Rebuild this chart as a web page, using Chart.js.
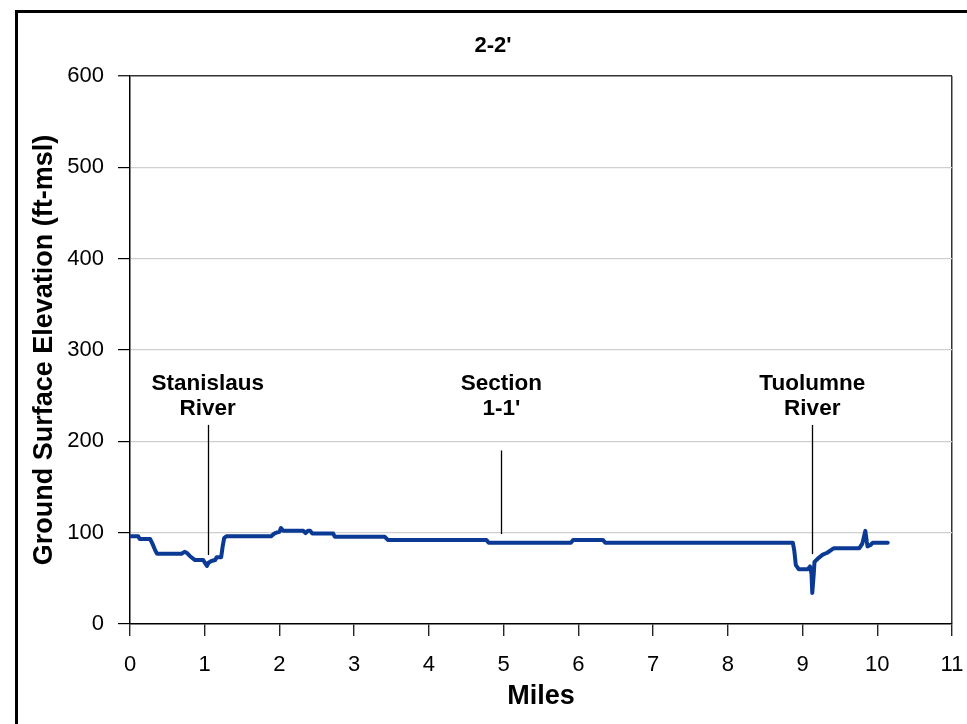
<!DOCTYPE html>
<html>
<head>
<meta charset="utf-8">
<script src="https://cdn.jsdelivr.net/npm/chart.js@4.4.1/dist/chart.umd.min.js"></script>
<style>
html,body{margin:0;padding:0;background:#fff;}
#wrap{width:967px;height:724px;position:relative;}
</style>
</head>
<body>
<div id="wrap"><canvas id="c" width="967" height="724"></canvas></div>
<script>
// ---- data ----
const chartTitle = "2-2'";
const xAxisTitle = "Miles";
const yAxisTitle = "Ground Surface Elevation (ft-msl)";
const miles = [0,0.11,0.13,0.27,0.30,0.33,0.36,0.69,0.73,0.76,0.80,0.87,0.98,1.03,1.05,1.09,1.14,1.16,1.22,1.24,1.26,1.29,1.89,1.93,1.96,2.00,2.02,2.05,2.32,2.35,2.38,2.41,2.44,2.72,2.74,3.41,3.45,4.77,4.80,5.90,5.93,6.33,6.36,8.87,8.89,8.91,8.95,9.07,9.10,9.12,9.13,9.15,9.16,9.21,9.27,9.33,9.40,9.42,9.76,9.80,9.84,9.86,9.87,9.91,9.94,10.14];
const elevation = [96,96,93,93,88,82,77,77,79,78,74.5,70,70,63.5,67,69,70,73,73,85,94,96,96,99,100,101,105,102,102,99.5,102,102,99,99,95.5,95.5,92,92,89,89,92,92,89,89,80,64.5,60,60,63,55,34,55,68,72,76,78,82,83,83,88,102,90,85,86.5,89,89];
const xTicks = [0,1,2,3,4,5,6,7,8,9,10,11];
const yTicks = [0,100,200,300,400,500,600];
const annotLabels = [["Stanislaus","River"],["Section","1-1'"],["Tuolumne","River"]];
const annotMiles = [1.04, 4.97, 9.13];
const annotTop = [218, 190, 218];
const annotBottom = [75.5, 98.5, 76.5];
const labelLineValues = [263, 236];

const points = miles.map((m,i)=>({x:m,y:elevation[i]}));
const FONT = "'Liberation Sans', Arial, sans-serif";

const decor = {
  id:'decor',
  afterDatasetsDraw(chart){
    const ctx = chart.ctx, xs = chart.scales.x, ys = chart.scales.y;
    ctx.save();
    ctx.strokeStyle = '#000'; ctx.lineWidth = 1.3;
    annotMiles.forEach((m,i)=>{
      const px = Math.round(xs.getPixelForValue(m))+0.5;
      ctx.beginPath();
      ctx.moveTo(px, ys.getPixelForValue(annotTop[i]));
      ctx.lineTo(px, ys.getPixelForValue(annotBottom[i]));
      ctx.stroke();
    });
    ctx.fillStyle = '#000';
    ctx.font = "bold 22.5px " + FONT;
    ctx.textAlign = 'center'; ctx.textBaseline = 'middle';
    annotMiles.forEach((m,i)=>{
      const px = xs.getPixelForValue(m);
      annotLabels[i].forEach((t,j)=>{
        ctx.fillText(t, px, ys.getPixelForValue(labelLineValues[j]));
      });
    });
    ctx.restore();
  },
  afterDraw(chart){
    const ctx = chart.ctx, a = chart.chartArea;
    ctx.save();
    ctx.strokeStyle = '#000'; ctx.lineWidth = 3;
    ctx.strokeRect(16.5, 11.5, 1000, 800);
    ctx.fillStyle = '#000';
    ctx.textAlign = 'center'; ctx.textBaseline = 'middle';
    ctx.font = "bold 22px " + FONT;
    ctx.fillText(chartTitle, 493, 46);
    ctx.font = "bold 27px " + FONT;
    ctx.fillText(xAxisTitle, (a.left + a.right)/2, 697);
    ctx.translate(45, (a.top + a.bottom)/2);
    ctx.rotate(-Math.PI/2);
    ctx.fillText(yAxisTitle, 0, 0);
    ctx.restore();
  }
};

new Chart(document.getElementById('c'), {
  type:'line',
  data:{ datasets:[{
    data: points,
    borderColor:'#0b3a94',
    borderWidth:4,
    pointRadius:0,
    tension:0,
    fill:false,
    borderCapStyle:'round',
    borderJoinStyle:'round'
  }]},
  options:{
    responsive:false,
    animation:false,
    devicePixelRatio:1,
    layout:{padding:{left:0, top:76, right:15, bottom:0}},
    plugins:{legend:{display:false}, tooltip:{enabled:false}, title:{display:false}},
    scales:{
      x:{
        type:'linear', min:0, max:11,
        afterBuildTicks(s){ s.ticks = xTicks.map(v=>({value:v})); },
        afterFit(s){ s.height = 100; s.paddingLeft = 0; s.paddingRight = 0; },
        border:{display:true, color:'#000', width:1.5},
        grid:{
          drawOnChartArea:true,
          color:(c)=> (c.tick && c.tick.value===11) ? '#333' : 'rgba(0,0,0,0)',
          lineWidth:1.5,
          tickColor:'#000', tickLength:12, tickWidth:1.2
        },
        ticks:{color:'#000', font:{family:FONT, size:22}, padding:16, maxRotation:0, autoSkip:false}
      },
      y:{
        min:0, max:600,
        afterBuildTicks(s){ s.ticks = yTicks.map(v=>({value:v})); },
        afterFit(s){ s.width = 130; s.paddingTop = 0; s.paddingBottom = 0; },
        border:{display:true, color:'#000', width:1.5},
        grid:{
          color:(c)=> {
            const v = c.tick ? c.tick.value : null;
            if (v===600) return '#333';
            if (v===0) return 'rgba(0,0,0,0)';
            return '#cfcfcf';
          },
          lineWidth:(c)=> (c.tick && c.tick.value===600) ? 1.5 : 1.2,
          tickColor:'#000', tickLength:12, tickWidth:1.2
        },
        ticks:{color:'#000', font:{family:FONT, size:22}, padding:14}
      }
    }
  },
  plugins:[decor]
});
</script>
</body>
</html>
